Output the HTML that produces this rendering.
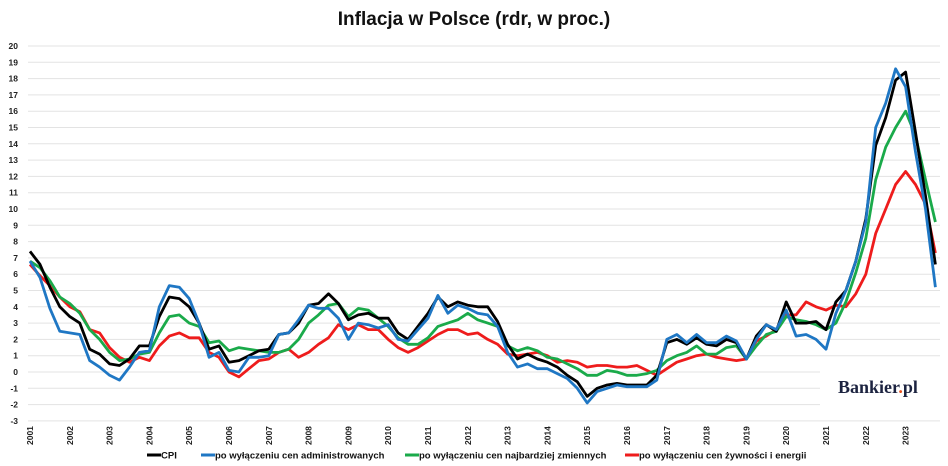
<!DOCTYPE html>
<html><head><meta charset="utf-8"><style>
body{margin:0;background:#fff;}
svg{display:block;font-family:"Liberation Sans",sans-serif;}
</style></head><body>
<svg id="chart" width="948" height="466" viewBox="0 0 948 466">
<text x="474" y="25" text-anchor="middle" font-size="19" font-weight="bold" fill="#111">Inflacja w Polsce (rdr, w proc.)</text>
<g id="grid"></g>
<g id="ylabels"></g>
<g id="xlabels"></g>
<g id="series"></g>
<rect x="820" y="362" width="128" height="52" fill="#fff"/>
<text x="838" y="393" font-family="Liberation Serif,serif" font-size="18" font-weight="bold" fill="#1c2340">Bankier<tspan fill="#e8511d">.</tspan>pl</text>
<g id="legend"></g>
</svg>
<script>
const yTicks = [-3,-2,-1,0,1,2,3,4,5,6,7,8,9,10,11,12,13,14,15,16,17,18,19,20];
const years = [2001,2002,2003,2004,2005,2006,2007,2008,2009,2010,2011,2012,2013,2014,2015,2016,2017,2018,2019,2020,2021,2022,2023];
const seriesNames = ["CPI","po wyłączeniu cen administrowanych","po wyłączeniu cen najbardziej zmiennych","po wyłączeniu cen żywności i energii"];
const cpi = [7.4,6.6,5.2,4.0, 3.4,3.0,1.4,1.1, 0.5,0.4,0.8,1.6, 1.6,3.4,4.6,4.5, 4.0,3.0,1.4,1.6, 0.6,0.7,1.0,1.3, 1.4,2.3,2.4,3.0, 4.1,4.2,4.8,4.2, 3.2,3.5,3.6,3.3, 3.3,2.4,2.0,2.8, 3.6,4.6,4.0,4.3, 4.1,4.0,4.0,3.1, 1.7,0.8,1.1,0.8, 0.6,0.3,-0.2,-0.6, -1.5,-1.0,-0.8,-0.7, -0.8,-0.8,-0.8,-0.2, 1.8,2.0,1.7,2.1, 1.7,1.6,2.0,1.8, 0.8,2.2,2.9,2.5, 4.3,3.0,3.0,3.1, 2.6,4.3,5.0,6.8, 9.4,13.9,15.6,17.9, 18.4,14.7,10.8,6.6];
const adm = [6.8,5.8,3.9,2.5, 2.4,2.3,0.7,0.3, -0.2,-0.5,0.3,1.2, 1.3,4.0,5.3,5.2, 4.5,3.0,0.9,1.2, 0.1,0.0,0.9,0.9, 1.0,2.3,2.4,3.2, 4.1,3.9,3.9,3.3, 2.0,3.0,2.9,2.7, 2.9,2.0,1.9,2.6, 3.3,4.7,3.6,4.1, 3.9,3.6,3.5,2.8, 1.2,0.3,0.5,0.2, 0.2,-0.1,-0.4,-1.0, -1.9,-1.2,-1.0,-0.8, -0.9,-0.9,-0.9,-0.5, 2.0,2.3,1.8,2.3, 1.8,1.8,2.2,1.9, 0.8,2.0,2.9,2.6, 3.8,2.2,2.3,2.0, 1.4,3.6,5.0,6.8, 9.2,15.0,16.5,18.6, 17.5,13.5,10.0,5.2];
const vol = [6.8,6.4,5.6,4.6, 4.2,3.6,2.6,2.0, 1.2,0.7,0.8,1.1, 1.2,2.4,3.4,3.5, 3.0,2.8,1.8,1.9, 1.3,1.5,1.4,1.3, 1.2,1.2,1.4,2.0, 3.0,3.5,4.1,4.2, 3.4,3.9,3.8,3.3, 2.8,2.1,1.7,1.7, 2.1,2.8,3.0,3.2, 3.6,3.2,3.0,2.8, 1.6,1.3,1.5,1.3, 0.9,0.8,0.5,0.2, -0.2,-0.2,0.1,0.0, -0.2,-0.2,-0.1,0.1, 0.7,1.0,1.2,1.6, 1.1,1.1,1.5,1.6, 0.8,1.6,2.3,2.5, 3.4,3.2,3.1,2.9, 2.6,3.0,4.3,6.1, 8.2,11.8,13.8,15.0, 16.0,14.5,11.8,9.2];
const core = [6.6,5.9,5.3,4.6, 4.0,3.7,2.6,2.4, 1.5,0.9,0.6,0.9, 0.7,1.6,2.2,2.4, 2.1,2.1,1.2,0.9, 0.0,-0.3,0.2,0.7, 0.8,1.2,1.4,0.9, 1.2,1.7,2.1,2.9, 2.6,2.9,2.6,2.6, 2.0,1.5,1.2,1.5, 1.9,2.3,2.6,2.6, 2.3,2.4,2.0,1.7, 1.1,1.0,1.1,1.2, 1.0,0.6,0.7,0.6, 0.3,0.4,0.4,0.3, 0.3,0.4,0.1,-0.2, 0.2,0.6,0.8,1.0, 1.1,0.9,0.8,0.7, 0.8,1.9,2.2,2.6, 3.5,3.5,4.3,4.0, 3.8,4.1,4.0,4.8, 6.0,8.5,10.0,11.5, 12.3,11.5,10.3,7.3];

const NS="http://www.w3.org/2000/svg";
const X0=30, YR=39.8, Y0=372, U=16.3;
const xs = t => X0 + (t-2001)*YR;
const ys = v => Y0 - v*U;
function mk(tag, attrs, parent){const e=document.createElementNS(NS,tag);for(const k in attrs)e.setAttribute(k,attrs[k]);parent.appendChild(e);return e;}

const grid=document.getElementById('grid'), yl=document.getElementById('ylabels'), xl=document.getElementById('xlabels');
yTicks.forEach(v=>{
  const l=mk('line',{x1:28,x2:940,y1:ys(v),y2:ys(v),stroke:'#e3e3e3','stroke-width':1},grid);
  
  
  const t=mk('text',{x:18,y:ys(v)+3,'text-anchor':'end','font-size':8.5,'font-weight':'bold',fill:'#222'},yl);
  t.textContent=v;
  
  
});
years.forEach(y=>{
  const x=xs(y);
  const t=mk('text',{x:0,y:0,transform:`translate(${x+3},445) rotate(-90)`,'font-size':8.5,'font-weight':'bold',fill:'#222'},xl);
  t.textContent=y;
  
  
});

const sdata=[cpi,adm,vol,core];
const colors=['#000000','#1f77c4','#1aaa4a','#ee1c1c'];
const order=[3,2,0,1];
const sg=document.getElementById('series');
order.forEach(i=>{
  const d=sdata[i].map((v,k)=>(k?'L':'M')+xs(2001+k*0.25).toFixed(1)+','+ys(v).toFixed(1)).join('');
  const p=mk('path',{d:d,fill:'none',stroke:colors[i],'stroke-width':2.8,'stroke-linejoin':'round'},sg);
  
  
});

const lg=document.getElementById('legend');
const lx=[147,201,405,625];
seriesNames.forEach((n,i)=>{
  const g=mk('g',{},lg);
  
  
  mk('line',{x1:lx[i],x2:lx[i]+14,y1:455,y2:455,stroke:colors[i],'stroke-width':3},g);
  const t=mk('text',{x:lx[i]+14,y:458.5,'font-size':9.5,'font-weight':'bold',fill:'#111'},g);
  t.textContent=n;
});
</script>
</body></html>
